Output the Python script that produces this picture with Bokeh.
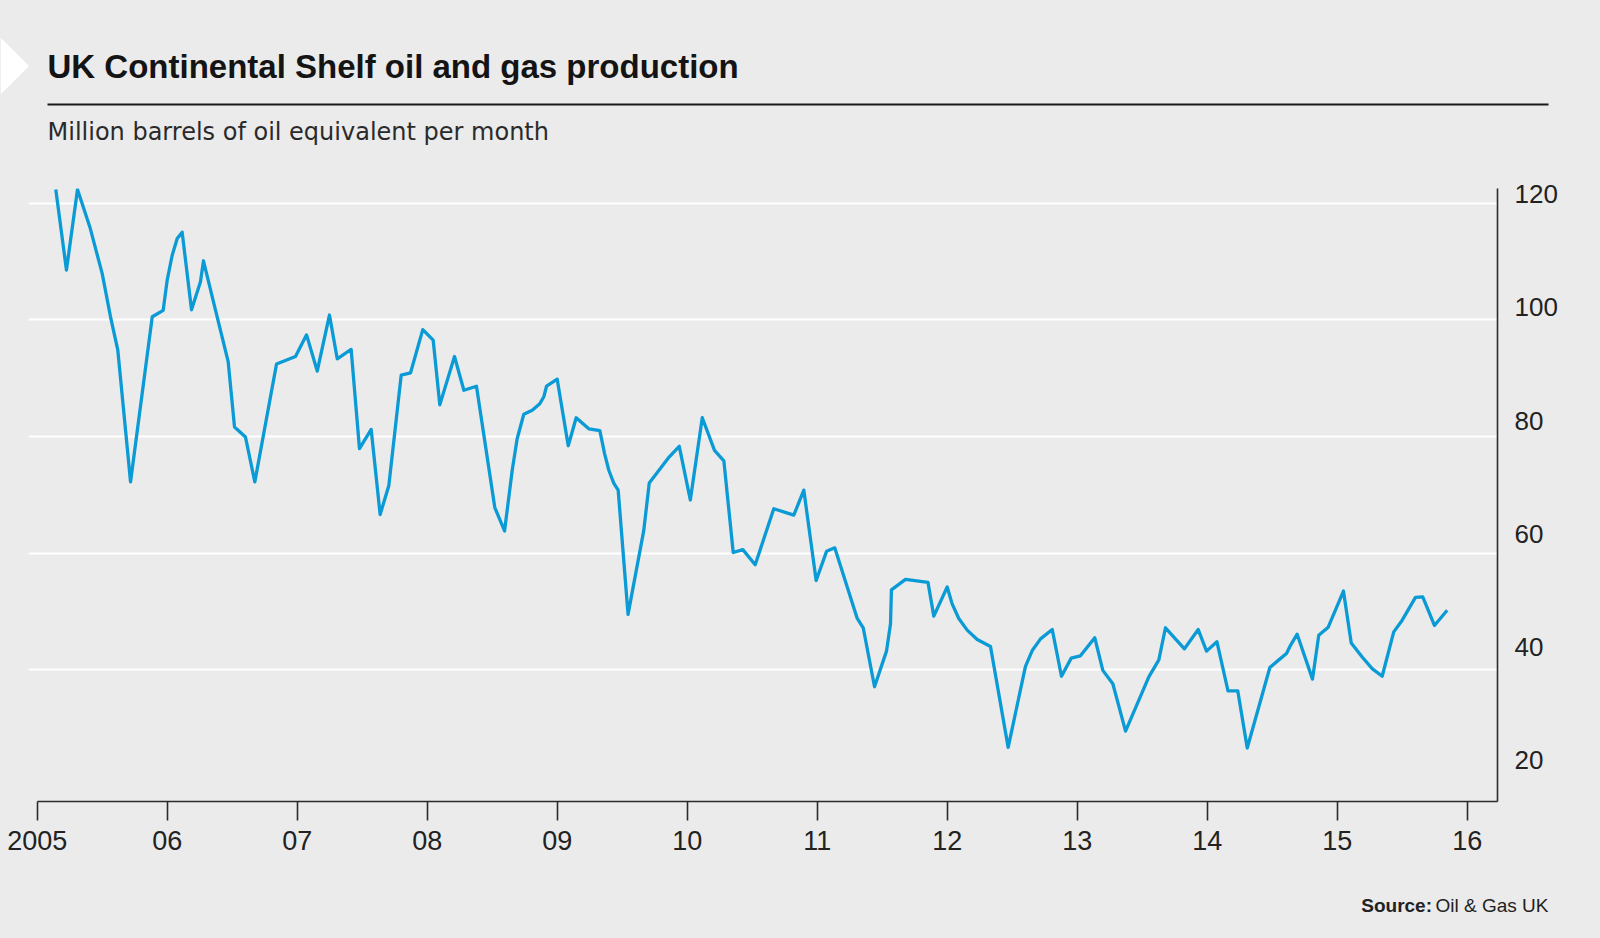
from bokeh.plotting import figure
from bokeh.models import Range1d, LinearAxis, FixedTicker, Grid
from bokeh.core.properties import value
from bokeh.embed import file_html
from bokeh.resources import INLINE

# ---------------- data ----------------
years_t = [
    2005.143, 2005.225, 2005.310, 2005.405, 2005.500, 2005.564, 2005.620, 2005.718, 2005.885, 2005.969,
    2006.000, 2006.038, 2006.077, 2006.115, 2006.187, 2006.256, 2006.279, 2006.372, 2006.469, 2006.518,
    2006.602, 2006.674, 2006.841, 2006.987, 2007.072, 2007.154, 2007.248, 2007.308, 2007.415, 2007.479,
    2007.569, 2007.638, 2007.705, 2007.800, 2007.872, 2007.966, 2008.046, 2008.097, 2008.210, 2008.282,
    2008.379, 2008.520, 2008.595, 2008.654, 2008.692, 2008.743, 2008.808, 2008.866, 2008.897, 2008.918,
    2009.000, 2009.085, 2009.146, 2009.243, 2009.328, 2009.364, 2009.397, 2009.435, 2009.469, 2009.545,
    2009.666, 2009.708, 2009.855, 2009.939, 2010.024, 2010.116, 2010.210, 2010.282, 2010.354, 2010.428,
    2010.523, 2010.666, 2010.820, 2010.897, 2010.992, 2011.072, 2011.135, 2011.308, 2011.354, 2011.441,
    2011.533, 2011.564, 2011.571, 2011.679, 2011.852, 2011.897, 2012.000, 2012.038, 2012.089, 2012.154,
    2012.231, 2012.333, 2012.469, 2012.602, 2012.654, 2012.718, 2012.808, 2012.879, 2012.954, 2013.025,
    2013.135, 2013.197, 2013.274, 2013.372, 2013.551, 2013.628, 2013.679, 2013.825, 2013.931, 2013.995,
    2014.075, 2014.160, 2014.235, 2014.308, 2014.482, 2014.551, 2014.610, 2014.641, 2014.692, 2014.810,
    2014.858, 2014.931, 2015.048, 2015.108, 2015.192, 2015.269, 2015.346, 2015.435, 2015.500, 2015.602,
    2015.658, 2015.748, 2015.846,
]
production = [
    122.3, 108.5, 122.3, 115.9, 107.9, 100.5, 94.8, 72.2, 100.5, 101.6,
    106.8, 111.0, 113.9, 115.0, 101.7, 106.5, 110.1, 101.6, 92.8, 81.6,
    79.9, 72.2, 92.4, 93.7, 97.4, 91.2, 100.8, 93.3, 94.9, 77.9,
    81.2, 66.6, 71.6, 90.5, 90.9, 98.3, 96.5, 85.4, 93.7, 87.9,
    88.6, 67.8, 63.8, 74.2, 79.6, 83.8, 84.5, 85.6, 86.8, 88.6,
    89.8, 78.4, 83.2, 81.3, 81.0, 77.1, 74.2, 72.0, 70.8, 49.5,
    63.9, 72.0, 76.3, 78.3, 69.1, 83.2, 77.6, 75.8, 60.1, 60.6,
    58.0, 67.6, 66.5, 70.8, 55.3, 60.3, 60.9, 48.8, 47.2, 37.1,
    43.2, 47.9, 53.7, 55.5, 55.0, 49.2, 54.2, 51.3, 48.8, 46.8,
    45.2, 44.0, 26.7, 40.6, 43.3, 45.3, 46.9, 38.9, 42.0, 42.4,
    45.5, 39.9, 37.6, 29.5, 38.8, 41.7, 47.2, 43.6, 46.9, 43.2,
    44.8, 36.4, 36.4, 26.6, 40.4, 41.7, 42.8, 44.2, 46.1, 38.4,
    45.9, 47.3, 53.5, 44.6, 42.2, 40.2, 38.9, 46.5, 48.5, 52.4,
    52.5, 47.6, 50.2,
]
x_tick_years = [2005, 2006, 2007, 2008, 2009, 2010, 2011, 2012, 2013, 2014, 2015, 2016]
x_tick_labels = ["2005", "06", "07", "08", "09", "10", "11", "12", "13", "14", "15", "16"]
y_tick_values = [20, 40, 60, 80, 100, 120]
grid_values = [40, 60, 80, 100, 120]

title_text = "UK Continental Shelf oil and gas production"
subtitle_text = "Million barrels of oil equivalent per month"
source_bold = "Source:"
source_text = "Oil & Gas UK"

# ---------------- layout constants (page pixels) ----------------
PAGE_W = 1600
HEAD_H = 150            # header band: page y 0..150
MAIN_H = 728            # chart band:  page y 150..878
FOOT_H = 60             # footer band: page y 878..938
FL, FR, FT, FB = 28, 1497, 188, 801   # plot frame edges, page pixels
PX_YEAR = 130.0
PX_UNIT = 5.835
x0 = 2005 - 8.7 / PX_YEAR
x1 = x0 + (FR - FL) / PX_YEAR
y0 = 20 - 15.0 / PX_UNIT
y1 = y0 + (FB - FT) / PX_UNIT

BG = "#ebebeb"
INK = "#222222"
AXIS = "#2b2b2b"
BLUE = "#0a9ad6"
FONT = "Liberation Sans"


def band(height, y_top):
    f = figure(width=PAGE_W, height=height, x_range=Range1d(0, PAGE_W),
               y_range=Range1d(y_top + height, y_top), output_backend="svg",
               toolbar_location=None, x_axis_location=None, y_axis_location=None,
               min_border=0, background_fill_color=BG, border_fill_color=BG,
               outline_line_color=None)
    f.xgrid.visible = False
    f.ygrid.visible = False
    return f


# ---------------- header ----------------
head = band(HEAD_H, 0)
head.patch(x=[0, 28.5, 0], y=[37, 65.5, 94], fill_color="white", line_color=None)
head.text(x=[47], y=[66], text=[title_text], text_font=value(FONT), text_font_style="bold",
          text_font_size=value("33px"), text_color="#141414", text_baseline="middle")
head.segment(x0=[47], y0=[104], x1=[1548], y1=[104], line_color="#1a1a1a", line_width=2)
head.text(x=[47], y=[131.5], text=[subtitle_text], text_font=value("DejaVu Sans"),
          text_font_size=value("24px"), text_color="#2a2a2a", text_baseline="middle")

# ---------------- chart ----------------
p = figure(width=PAGE_W, height=MAIN_H, x_range=Range1d(x0, x1), y_range=Range1d(y0, y1),
           output_backend="svg", toolbar_location=None, y_axis_location=None,
           min_border_left=FL, min_border_right=PAGE_W - FR,
           min_border_top=FT - HEAD_H, min_border_bottom=HEAD_H + MAIN_H - FB,
           background_fill_color=BG, border_fill_color=BG, outline_line_color=None)

p.xgrid.visible = False
p.ygrid.visible = False
p.add_layout(Grid(dimension=1, ticker=FixedTicker(ticks=grid_values),
                  grid_line_color="white", grid_line_width=2))

xa = p.xaxis[0]
xa.ticker = FixedTicker(ticks=x_tick_years)
xa.major_label_overrides = {yr: lab for yr, lab in zip(x_tick_years, x_tick_labels)}
xa.bounds = (x_tick_years[0], x1)
xa.axis_line_color = AXIS
xa.axis_line_width = 1.6
xa.major_tick_line_color = AXIS
xa.major_tick_line_width = 1.6
xa.major_tick_out = 19
xa.major_tick_in = 0
xa.minor_tick_line_color = None
xa.major_label_standoff = 10
xa.major_label_text_font = FONT
xa.major_label_text_font_size = "27px"
xa.major_label_text_color = INK

# right axis: labels sit slightly above their gridlines, as in the original
p.extra_y_ranges = {"lab": Range1d(12.76, 120.99)}
ya = LinearAxis(y_range_name="lab", ticker=FixedTicker(ticks=y_tick_values))
ya.axis_line_color = AXIS
ya.axis_line_width = 1.6
ya.major_tick_line_color = None
ya.major_tick_out = 0
ya.major_tick_in = 0
ya.minor_tick_line_color = None
ya.major_label_standoff = 17
ya.major_label_text_baseline = "middle"
ya.major_label_text_font = FONT
ya.major_label_text_font_size = "26px"
ya.major_label_text_color = INK
p.add_layout(ya, "right")

p.line(years_t, production, line_color=BLUE, line_width=3.3, line_join="round")

# ---------------- footer ----------------
foot = band(FOOT_H, HEAD_H + MAIN_H)
foot.text(x=[1548], y=[904.5], text=[source_text], text_font=value(FONT),
          text_font_size=value("19px"), text_color=INK, text_align="right",
          text_baseline="middle")
foot.text(x=[1431.5], y=[904.5], text=[source_bold], text_font=value(FONT),
          text_font_style="bold", text_font_size=value("19px"), text_color=INK,
          text_align="right", text_baseline="middle")

open("out.html", "w").write(file_html([head, p, foot], INLINE).replace(
    "<head>", "<head><style>html,body{background:#ebebeb;}</style>", 1))
